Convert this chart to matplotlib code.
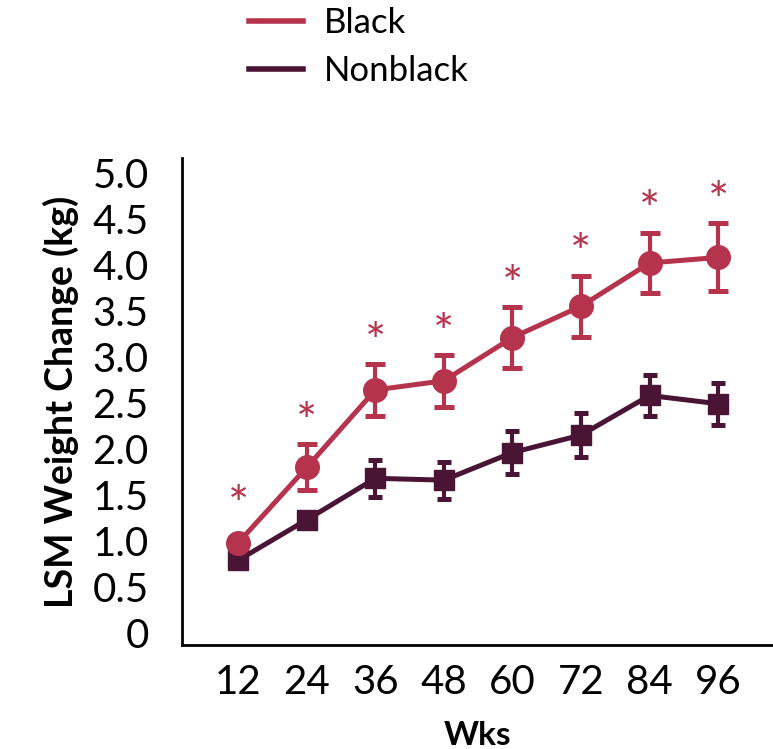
import matplotlib.pyplot as plt
from matplotlib.lines import Line2D
import numpy as np

plt.rcParams['font.family'] = ['Lato', 'DejaVu Sans']

# data
weeks = ['12', '24', '36', '48', '60', '72', '84', '96']
black_mean = [0.98, 1.80, 2.64, 2.74, 3.21, 3.55, 4.02, 4.08]
black_err = [0.05, 0.25, 0.28, 0.28, 0.33, 0.33, 0.33, 0.37]
nonblack_mean = [0.79, 1.23, 1.68, 1.66, 1.96, 2.15, 2.58, 2.49]
nonblack_err = [0.04, 0.05, 0.20, 0.20, 0.23, 0.24, 0.22, 0.23]
star_pad = [22, 14, 14, 14, 14, 14, 14, 14]   # points above the bar top
yticks = [0, 0.5, 1.0, 1.5, 2.0, 2.5, 3.0, 3.5, 4.0, 4.5, 5.0]
ytick_labels = ['0', '0.5', '1.0', '1.5', '2.0', '2.5', '3.0', '3.5', '4.0', '4.5', '5.0']

c_black = '#B5334D'
c_nonblack = '#4A1535'

fig = plt.figure(figsize=(7.73, 7.49), dpi=100)
ax = fig.add_axes([0.2355, 0.139, 0.7645, 0.650])

x = np.arange(len(weeks))

ax.errorbar(x, nonblack_mean, yerr=nonblack_err, color=c_nonblack, lw=3.6,
            marker='s', ms=15, elinewidth=3, capsize=5, capthick=3.6,
            label='Nonblack', zorder=3)
ax.errorbar(x, black_mean, yerr=black_err, color=c_black, lw=3.6,
            marker='o', ms=17, elinewidth=3, capsize=7, capthick=3.6,
            label='Black', zorder=4)

# significance stars
for xi, m, e, p in zip(x, black_mean, black_err, star_pad):
    ax.annotate('*', (xi, m + e), xytext=(0, p), textcoords='offset points',
                ha='center', va='center', fontsize=36, color=c_black)

ax.set_xlim(-0.82, 7.8)
ax.set_ylim(-0.13, 5.16)
ax.set_xticks(x)
ax.set_xticklabels(weeks)
ax.set_yticks(yticks)
ax.set_yticklabels(ytick_labels)
ax.tick_params(length=0, labelsize=29, pad=14)
ax.tick_params(axis='y', pad=24)

for s in ['top', 'right']:
    ax.spines[s].set_visible(False)
for s in ['left', 'bottom']:
    ax.spines[s].set_linewidth(2)

ax.set_xlabel('Wks', fontsize=24, fontweight='bold', labelpad=14)
ax.set_ylabel('LSM Weight Change (kg)', fontsize=27, fontweight='bold', labelpad=10)

handles = [Line2D([], [], color=c_black, lw=4), Line2D([], [], color=c_nonblack, lw=4)]
fig.legend(handles, ['Black', 'Nonblack'], loc='upper left',
           bbox_to_anchor=(0.282, 1.032), frameon=False, fontsize=25,
           handlelength=1.55, handletextpad=0.6, labelspacing=0.45)

fig.savefig('out.png', dpi=100)
